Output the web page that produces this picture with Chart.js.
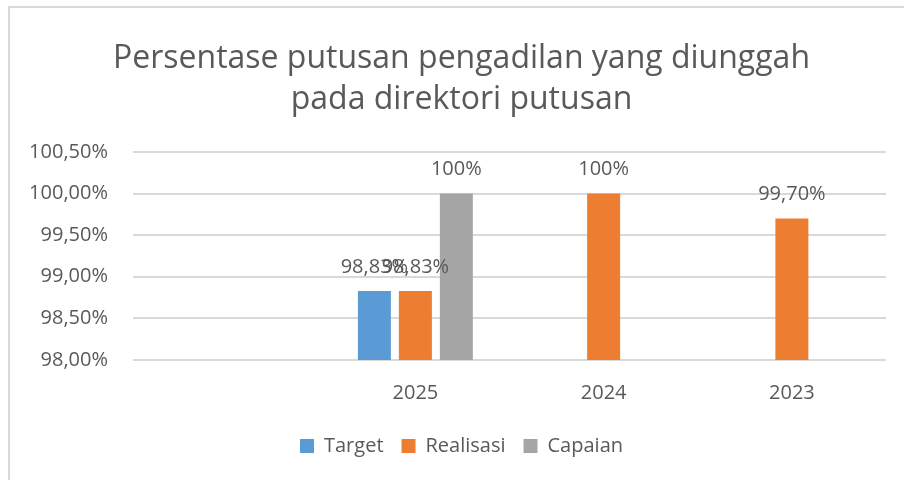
<!DOCTYPE html>
<html>
<head>
<meta charset="utf-8">
<script src="https://cdn.jsdelivr.net/npm/chart.js@4.4.1/dist/chart.umd.min.js"></script>
<style>
  html, body { margin: 0; padding: 0; background: #fff; }
  .frame {
    position: absolute; left: 8px; top: 6px; width: 920px; height: 500px;
    border-left: 2px solid #d9d9d9; border-top: 2px solid #d9d9d9;
  }
  #wrap { position: absolute; left: 0; top: 0; width: 904px; height: 480px; }
</style>
</head>
<body>
<div class="frame"></div>
<div id="wrap"><canvas id="chart"></canvas></div>
<script>
// Chart data
const categories = ['', '2025', '2024', '2023'];
const target = [null, 98.83, null, null];
const realisasi = [null, 98.83, 100, 99.70];
const capaian = [null, 100, null, null];
const yTicks = [98, 98.5, 99, 99.5, 100, 100.5];

const textColor = '#595959';
const fontFamily = "'Open Sans', 'Noto Sans', sans-serif";

function fmtTick(v) {
    return v.toFixed(2).replace('.', ',') + '%';
}
function fmtLabel(v) {
    return Number.isInteger(v) ? v + '%' : v.toFixed(2).replace('.', ',') + '%';
}

// Value labels above the bars
const valueLabels = {
    id: 'valueLabels',
    afterDatasetsDraw(chart) {
        const ctx = chart.ctx;
        ctx.save();
        ctx.font = '20px ' + fontFamily;
        ctx.fillStyle = textColor;
        ctx.textAlign = 'center';
        ctx.textBaseline = 'middle';
        chart.data.datasets.forEach((ds, i) => {
            const meta = chart.getDatasetMeta(i);
            meta.data.forEach((bar, j) => {
                const v = ds.data[j];
                if (v === null) return;
                ctx.fillText(fmtLabel(v), bar.x, bar.y - 24);
            });
        });
        ctx.restore();
    }
};

const ctx = document.getElementById('chart').getContext('2d');
new Chart(ctx, {
    type: 'bar',
    data: {
        labels: categories,
        datasets: [
            { label: 'Target', data: target, backgroundColor: '#5B9BD5' },
            { label: 'Realisasi', data: realisasi, backgroundColor: '#ED7D31' },
            { label: 'Capaian', data: capaian, backgroundColor: '#A5A5A5' }
        ]
    },
    options: {
        responsive: true,
        maintainAspectRatio: false,
        animation: false,
        categoryPercentage: 0.653,
        barPercentage: 0.805,
        layout: { padding: { left: 37, right: 18, top: 0, bottom: 14 } },
        scales: {
            x: {
                grid: { display: false },
                border: { display: false },
                ticks: { color: textColor, font: { size: 20, family: fontFamily }, padding: 13 }
            },
            y: {
                min: 98,
                max: 100.5,
                afterBuildTicks(scale) {
                    scale.ticks = yTicks.map(v => ({ value: v }));
                },
                afterFit(scale) {
                    scale.width = 96;
                    // let the wide tick labels spill past the axis box
                    scale._computeLabelArea = () => undefined;
                },
                grid: { color: '#d9d9d9', lineWidth: 2, drawTicks: false },
                border: { display: false },
                ticks: {
                    color: textColor,
                    font: { size: 20, family: fontFamily },
                    padding: 25,
                    callback: v => fmtTick(v)
                }
            }
        },
        plugins: {
            title: {
                display: true,
                text: ['Persentase putusan pengadilan yang diunggah', 'pada direktori putusan'],
                color: textColor,
                font: { size: 32, weight: 'normal', family: fontFamily, lineHeight: 1.28 },
                padding: { top: 38, bottom: 32 }
            },
            legend: {
                position: 'bottom',
                labels: {
                    color: textColor,
                    font: { size: 20, family: fontFamily },
                    boxWidth: 14,
                    boxHeight: 14,
                    padding: 18
                }
            },
            tooltip: { enabled: false }
        }
    },
    plugins: [valueLabels]
});
</script>
</body>
</html>
